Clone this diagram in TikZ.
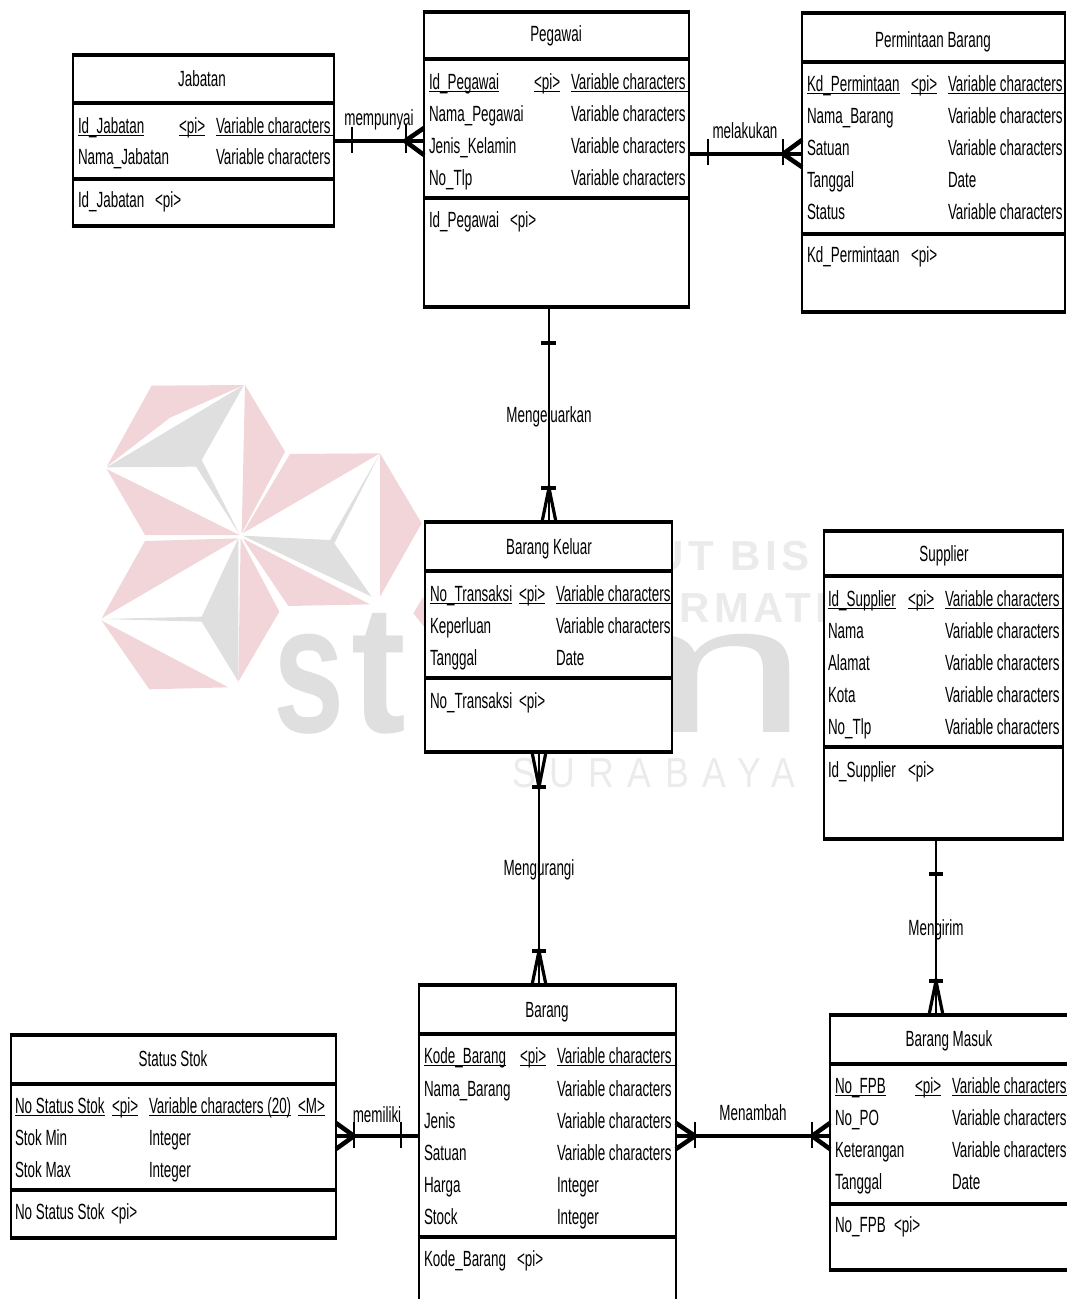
\documentclass[tikz,border=0pt]{standalone}
\usepackage{fontspec}
\setmainfont[FakeStretch=0.61]{Liberation Sans}
\newfontfamily\wmbold[FakeStretch=0.7]{Liberation Sans Bold}
\newfontfamily\wmboldt[FakeStretch=0.9]{Liberation Sans Bold}
\newfontfamily\wmreg{Liberation Sans}
\newfontfamily\wmsur[FakeStretch=0.85,LetterSpace=32]{Liberation Sans}
\newfontfamily\wmline[LetterSpace=11]{Liberation Sans Bold}
\definecolor{wmpink}{HTML}{F2D5D8}
\definecolor{wmgrey}{HTML}{DFDFDF}
\definecolor{wmlight}{HTML}{EBEBEB}
\newcounter{tn}
\tikzset{
  tbl/.style={draw=black,fill=white,line width=1.9pt,inner sep=0pt,outer sep=0pt,rectangle},
  txt/.style={anchor=base west,inner sep=0pt,outer sep=0pt,text=black,yshift=0.75pt,font=\fontsize{16.5}{20}\selectfont},
  ttl/.style={txt,anchor=base},
  ul/.style={line width=1.2pt,black},
  sep/.style={line width=3.4pt,black,shorten <=-0.95pt,shorten >=-0.95pt},
  rel/.style={line width=3.7pt,black},
  relthin/.style={line width=2.2pt,black},
  tickv/.style={line width=2pt,black},
  tickh/.style={line width=3.7pt,black},
  crow/.style={line width=3.4pt,black},
  crowv/.style={line width=2.4pt,black},
}
\newcommand\tbox[7]{% name x1 y1 x2 y2 ysep1 ysep2
  \node[tbl,minimum width={(#4-#2)*0.75pt},minimum height={(#5-#3)*0.75pt}] (#1) at ({(#2+#4)/2},{(#3+#5)/2}) {};
  \draw[sep] (#1.north west) -- (#1.north east);
  \draw[sep] (#1.south west) -- (#1.south east);
  \draw[sep] (#1.west |- 0,#6) -- (#1.east |- 0,#6);
  \draw[sep] (#1.west |- 0,#7) -- (#1.east |- 0,#7);
}
\newcommand\tx[3]{\stepcounter{tn}\node[txt] (t\arabic{tn}) at (#1,#2) {#3};}
\newcommand\tc[3]{\stepcounter{tn}\node[ttl] (t\arabic{tn}) at (#1,#2) {#3};}
\newcommand\ux[3]{\tx{#1}{#2}{#3}\draw[ul] ([yshift=-1.8pt]t\arabic{tn}.base west) -- ([yshift=-1.8pt]t\arabic{tn}.base east);}
\newcommand\uy[4]{\tx{#1}{#2}{#3}\coordinate (u\arabic{tn}) at ([yshift=-1.8pt]t\arabic{tn}.base west);\draw[ul] (u\arabic{tn}) -- (u\arabic{tn} -| #4.east);}
\begin{document}
\begin{tikzpicture}[x=0.75pt,y=-0.75pt]
\useasboundingbox (0,0) rectangle (1067,1299);
% watermark
\begin{scope}[shift={(90,370)},x=0.25pt,y=-0.25pt]
\fill[wmpink] (185,47) -- (462,45) -- (240,143) -- (50,290) -- cycle;
\fill[wmgrey] (462,45) -- (50,292) -- (318,290) -- (450,495) -- (335,270) -- cycle;
\fill[wmpink] (465,45) -- (585,245) -- (455,490) -- cycle;
\fill[wmpink] (50,297) -- (448,495) -- (165,495) -- cycle;
\fill[wmpink] (600,252) -- (870,250) -- (458,490) -- cycle;
\fill[wmgrey] (870,250) -- (720,510) -- (458,497) -- (845,680) -- (733,520) -- cycle;
\fill[wmpink] (870,250) -- (995,460) -- (870,680) -- cycle;
\fill[wmpink] (458,505) -- (840,703) -- (595,708) -- cycle;
\fill[wmpink] (165,513) -- (445,505) -- (35,745) -- cycle;
\fill[wmgrey] (445,505) -- (335,740) -- (35,747) -- (335,755) -- (445,935) -- cycle;
\fill[wmpink] (452,505) -- (568,725) -- (445,935) -- cycle;
\fill[wmpink] (35,752) -- (415,952) -- (178,958) -- cycle;
\fill[wmpink] (1000,680) -- (970,730) -- (1010,780) -- cycle;
\end{scope}
\node[anchor=base west,inner sep=0pt,text=wmgrey,font=\wmbold\fontsize{137}{137}\selectfont] (wms) at (273,732) {s};
\node[anchor=base west,inner sep=0pt,text=wmgrey,font=\wmboldt\fontsize{137}{137}\selectfont] (wmt) at (351,732) {t};
\node[anchor=base east,inner sep=0pt,text=wmgrey,xscale=1.65,font=\wmreg\fontsize{137}{137}\selectfont] (wmm) at (810,732) {m};
\node[anchor=base west,inner sep=0pt,text=wmlight,font=\wmline\fontsize{31.5}{32}\selectfont] (wma) at (653,570) {UT BIS};
\node[anchor=base west,inner sep=0pt,text=wmlight,font=\wmline\fontsize{31.5}{32}\selectfont] (wmb) at (679,622) {RMATI};
\node[anchor=base west,inner sep=0pt,text=wmlight,font=\wmsur\fontsize{31.5}{32}\selectfont] (wmc) at (512,787) {SURABAYA};
% tables
\tbox{jabatan}{73}{55}{334}{226}{103}{179}
\tbox{pegawai}{424}{12}{689}{307}{59}{198}
\tbox{permintaan}{802}{13}{1065}{312}{62}{234}
\tbox{keluar}{425}{522}{672}{752}{571}{678}
\tbox{supplier}{824}{531}{1063}{839}{576}{747}
\tbox{barang}{419}{985}{676}{1312}{1034}{1237}
\tbox{status}{11}{1035}{336}{1238}{1084}{1190}
\tbox{masuk}{830}{1015}{1070}{1270}{1064}{1204}
% Jabatan
\tc{202}{87}{Jabatan}
\ux{78}{134}{Id\_Jabatan}\ux{179}{134}{<pi>}\uy{216}{134}{Variable characters}{jabatan}
\tx{78}{165}{Nama\_Jabatan}\tx{216}{165}{Variable characters}
\tx{78}{208}{Id\_Jabatan}\tx{155}{208}{<pi>}
% Pegawai
\tc{556}{42}{Pegawai}
\ux{429}{90}{Id\_Pegawai}\ux{534}{90}{<pi>}\uy{571}{90}{Variable characters}{pegawai}
\tx{429}{122}{Nama\_Pegawai}\tx{571}{122}{Variable characters}
\tx{429}{154}{Jenis\_Kelamin}\tx{571}{154}{Variable characters}
\tx{429}{186}{No\_Tlp}\tx{571}{186}{Variable characters}
\tx{429}{228}{Id\_Pegawai}\tx{510}{228}{<pi>}
% Permintaan
\tc{933}{48}{Permintaan Barang}
\ux{807}{92}{Kd\_Permintaan}\ux{911}{92}{<pi>}\uy{948}{92}{Variable characters}{permintaan}
\tx{807}{124}{Nama\_Barang}\tx{948}{124}{Variable characters}
\tx{807}{156}{Satuan}\tx{948}{156}{Variable characters}
\tx{807}{188}{Tanggal}\tx{948}{188}{Date}
\tx{807}{220}{Status}\tx{948}{220}{Variable characters}
\tx{807}{263}{Kd\_Permintaan}\tx{911}{263}{<pi>}
% Barang Keluar
\tc{549}{555}{Barang Keluar}
\ux{430}{602}{No\_Transaksi}\ux{519}{602}{<pi>}\uy{556}{602}{Variable characters}{keluar}
\tx{430}{634}{Keperluan}\tx{556}{634}{Variable characters}
\tx{430}{666}{Tanggal}\tx{556}{666}{Date}
\tx{430}{709}{No\_Transaksi}\tx{519}{709}{<pi>}
% Supplier
\tc{944}{562}{Supplier}
\ux{828}{607}{Id\_Supplier}\ux{908}{607}{<pi>}\uy{945}{607}{Variable characters}{supplier}
\tx{828}{639}{Nama}\tx{945}{639}{Variable characters}
\tx{828}{671}{Alamat}\tx{945}{671}{Variable characters}
\tx{828}{703}{Kota}\tx{945}{703}{Variable characters}
\tx{828}{735}{No\_Tlp}\tx{945}{735}{Variable characters}
\tx{828}{778}{Id\_Supplier}\tx{908}{778}{<pi>}
% Barang
\tc{547}{1018}{Barang}
\ux{424}{1064}{Kode\_Barang}\ux{520}{1064}{<pi>}\uy{557}{1064}{Variable characters}{barang}
\tx{424}{1097}{Nama\_Barang}\tx{557}{1097}{Variable characters}
\tx{424}{1129}{Jenis}\tx{557}{1129}{Variable characters}
\tx{424}{1161}{Satuan}\tx{557}{1161}{Variable characters}
\tx{424}{1193}{Harga}\tx{557}{1193}{Integer}
\tx{424}{1225}{Stock}\tx{557}{1225}{Integer}
\tx{424}{1267}{Kode\_Barang}\tx{517}{1267}{<pi>}
% Status Stok
\tc{173}{1067}{Status Stok}
\ux{15}{1114}{No Status Stok}\ux{112}{1114}{<pi>}\ux{149}{1114}{Variable characters (20)}\ux{298}{1114}{<M>}
\tx{15}{1146}{Stok Min}\tx{149}{1146}{Integer}
\tx{15}{1178}{Stok Max}\tx{149}{1178}{Integer}
\tx{15}{1220}{No Status Stok}\tx{111}{1220}{<pi>}
% Barang Masuk
\tc{949}{1047}{Barang Masuk}
\ux{835}{1094}{No\_FPB}\ux{915}{1094}{<pi>}\uy{952}{1094}{Variable characters}{masuk}
\tx{835}{1126}{No\_PO}\tx{952}{1126}{Variable characters}
\tx{835}{1158}{Keterangan}\tx{952}{1158}{Variable characters}
\tx{835}{1190}{Tanggal}\tx{952}{1190}{Date}
\tx{835}{1233}{No\_FPB}\tx{894}{1233}{<pi>}
% mempunyai
\draw[rel] (jabatan.east |- 0,141) -- (pegawai.west |- 0,141);
\draw[tickv] (352,127) -- (352,153);
\draw[tickv] (406,125) -- (406,153);
\draw[crow] (pegawai.west |- 0,128) -- (405,141) -- (pegawai.west |- 0,155);
% melakukan
\draw[rel] (pegawai.east |- 0,154) -- (permintaan.west |- 0,154);
\draw[tickv] (708,139) -- (708,165);
\draw[tickv] (783,139) -- (783,165);
\draw[crow] (permintaan.west |- 0,140) -- (783,154) -- (permintaan.west |- 0,167);
% Mengeluarkan
\draw[relthin] (549,0 |- pegawai.south) -- (549,0 |- keluar.north);
\draw[tickh] (541,343) -- (556,343);
\draw[tickh] (541,488) -- (556,488);
\draw[crowv] (542,0 |- keluar.north) -- (549,488) -- (556,0 |- keluar.north);
% Mengurangi
\draw[relthin] (539,0 |- keluar.south) -- (539,0 |- barang.north);
\draw[tickh] (532,787) -- (546,787);
\draw[tickh] (532,951) -- (546,951);
\draw[crowv] (532,0 |- keluar.south) -- (539,787) -- (546,0 |- keluar.south);
\draw[crowv] (532,0 |- barang.north) -- (539,951) -- (546,0 |- barang.north);
% Mengirim
\draw[relthin] (936,0 |- supplier.south) -- (936,0 |- masuk.north);
\draw[tickh] (929,874) -- (943,874);
\draw[tickh] (929,981) -- (943,981);
\draw[crowv] (929,0 |- masuk.north) -- (936,981) -- (943,0 |- masuk.north);
% memiliki
\draw[rel] (status.east |- 0,1136) -- (barang.west |- 0,1136);
\draw[tickv] (354,1122) -- (354,1148);
\draw[tickv] (401,1122) -- (401,1148);
\draw[crow] (status.east |- 0,1123) -- (354,1136) -- (status.east |- 0,1149);
% Menambah
\draw[rel] (barang.east |- 0,1136) -- (masuk.west |- 0,1136);
\draw[tickv] (695,1122) -- (695,1148);
\draw[tickv] (812,1122) -- (812,1148);
\draw[crow] (barang.east |- 0,1123) -- (695,1136) -- (barang.east |- 0,1149);
\draw[crow] (masuk.west |- 0,1123) -- (812,1136) -- (masuk.west |- 0,1149);
% labels
\tc{379}{126}{mempunyai}
\tc{745}{139}{melakukan}
\tc{549}{423}{Mengeluarkan}
\tc{539}{876}{Mengurangi}
\tc{936}{936}{Mengirim}
\tc{377}{1123}{memiliki}
\tc{753}{1121}{Menambah}
\end{tikzpicture}
\end{document}
